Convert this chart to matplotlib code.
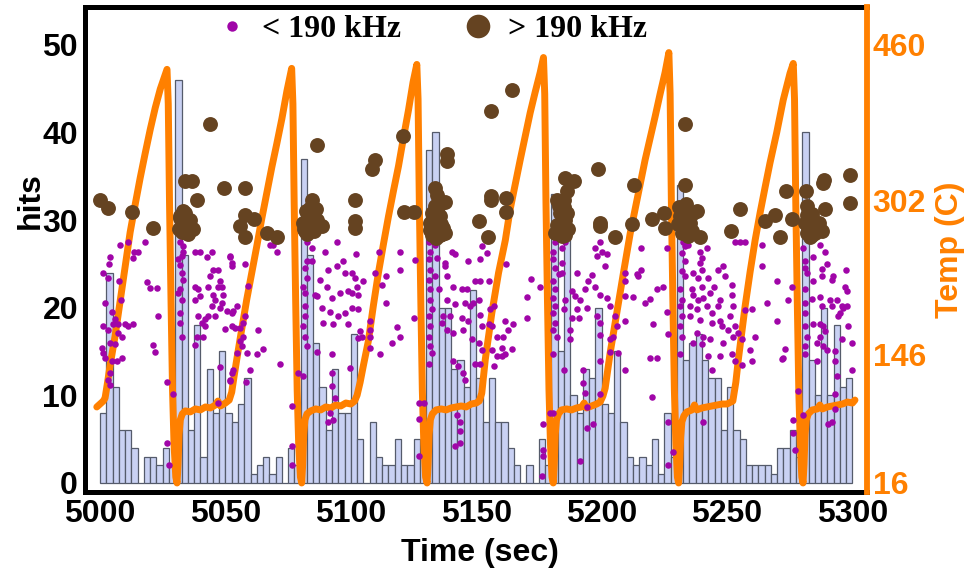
import numpy as np
import matplotlib
matplotlib.use("Agg")
import matplotlib.pyplot as plt
from matplotlib.lines import Line2D
from matplotlib.font_manager import FontProperties

plt.rcParams['font.family'] = ['Liberation Sans', 'DejaVu Sans']
plt.rcParams['font.weight'] = 'bold'

# histogram: hits per 2.5 s bin, starting at 5000 s
bin_start = 5000
bin_width = 2.5
hits_per_bin = [8, 24, 11, 6, 6, 4, 0, 3, 3, 2, 4, 2, 46, 26, 6, 18, 3, 13, 8, 15,
                8, 7, 9, 12, 1, 2, 3, 1, 3, 0, 4, 2, 37, 26, 16, 11, 6, 13, 8, 8,
                17, 5, 0, 7, 3, 2, 2, 5, 2, 2, 5, 3, 38, 40, 20, 20, 13, 14, 11, 22,
                12, 7, 12, 7, 7, 4, 2, 0, 2, 0, 5, 2, 33, 15, 31, 10, 8, 13, 12, 20,
                9, 8, 15, 7, 3, 2, 3, 2, 5, 1, 8, 3, 34, 14, 16, 17, 14, 12, 12, 6,
                11, 6, 5, 2, 2, 2, 2, 1, 4, 4, 6, 3, 40, 14, 10, 20, 10, 18, 11, 12]

# temperature trace (time s, temp C)
temp_pts = [
    (4998.7, 93), (5000.0, 96), (5001.3, 99), (5002.0, 102), (5003.0, 118), (5004.0, 135),
    (5006.0, 165), (5008.0, 200), (5010.0, 235), (5012.0, 270), (5014.0, 298), (5016.0, 325),
    (5018.0, 350), (5020.0, 374), (5022.0, 396), (5024.0, 415), (5026.0, 430), (5026.7, 435),
    (5027.2, 400), (5027.7, 300), (5028.3, 200), (5028.9, 110), (5029.5, 55), (5030.2, 22),
    (5030.7, 16), (5031.1, 35), (5031.5, 65), (5032.0, 80), (5032.8, 86), (5034, 89), (5036, 88),
    (5038, 91), (5040, 90), (5042, 93), (5044, 92), (5046, 95), (5047, 99), (5048, 94), (5050, 97),
    (5051.5, 100),
    (5052.5, 108), (5053.5, 125), (5054.5, 141), (5056.5, 172), (5058.5, 202), (5060.5, 229),
    (5062.5, 256), (5064.5, 284), (5066.5, 310), (5068.5, 336), (5070.5, 360), (5072.5, 385),
    (5074.5, 413), (5076.4, 436),
    (5076.9, 400), (5077.4, 300), (5078.0, 200), (5078.6, 110), (5079.2, 55), (5079.9, 22),
    (5080.4, 16), (5080.8, 35), (5081.2, 65), (5081.7, 80), (5082.5, 86), (5084, 89), (5086, 91),
    (5088, 90), (5090, 93), (5092, 92), (5094, 95), (5096, 94), (5098, 97), (5100, 96), (5101.5, 99),
    (5102.5, 105), (5103.7, 118), (5105.0, 135), (5107.0, 160), (5109.0, 196), (5111.0, 229),
    (5113.0, 258), (5115.0, 286), (5117.0, 312), (5119.0, 337), (5121.0, 366), (5123.0, 394),
    (5124.8, 422), (5126.3, 440),
    (5126.8, 405), (5127.3, 300), (5127.9, 200), (5128.5, 110), (5129.1, 55), (5129.8, 22),
    (5130.4, 16), (5130.8, 35), (5131.2, 65), (5131.7, 80), (5132.5, 86), (5134, 90), (5136, 91),
    (5138, 90), (5140, 92), (5142, 93), (5144, 94), (5146, 93), (5148, 96), (5150, 97), (5151.2, 99),
    (5152.2, 107), (5153.6, 141), (5156.2, 188), (5158.9, 229), (5161.6, 262), (5163.5, 293),
    (5165.5, 318), (5167.5, 343), (5169.5, 367), (5171.5, 391), (5173.5, 412), (5175.5, 432),
    (5176.8, 447),
    (5177.3, 410), (5177.8, 300), (5178.4, 200), (5179.0, 110), (5179.6, 55), (5180.2, 22),
    (5180.7, 16), (5181.1, 35), (5181.5, 65), (5182.0, 80), (5182.8, 86), (5184, 90), (5186, 91),
    (5188, 90), (5190, 92), (5192, 93), (5193, 97), (5194, 92), (5196, 94), (5198, 96), (5199.4, 98),
    (5200.5, 104), (5201.4, 112), (5203.4, 148), (5206.0, 188), (5208.7, 229), (5211.4, 269),
    (5213.3, 293), (5215.3, 318), (5217.3, 343), (5219.3, 365), (5221.3, 387), (5223.3, 410),
    (5225.3, 432), (5226.8, 452),
    (5227.3, 410), (5227.8, 300), (5228.4, 200), (5229.0, 110), (5229.6, 55), (5230.2, 22),
    (5230.7, 16), (5231.1, 35), (5231.5, 62), (5232.0, 78), (5232.8, 84), (5234, 88), (5236, 90),
    (5237, 95), (5238, 90), (5240, 92), (5242, 93), (5244, 94), (5246, 95), (5248, 96), (5250, 96),
    (5252.3, 99),
    (5253.5, 118), (5254.5, 141), (5257.2, 195), (5259.2, 230), (5261.2, 262), (5263.2, 290),
    (5265.2, 316), (5267.1, 340), (5269.8, 371), (5272.4, 404), (5275.1, 431), (5276.4, 441),
    (5276.9, 405), (5277.4, 300), (5278.0, 200), (5278.6, 110), (5279.2, 55), (5279.8, 22),
    (5280.3, 16), (5280.7, 35), (5281.1, 65), (5281.6, 80), (5282.4, 86), (5284, 90), (5286, 91),
    (5287, 95), (5288, 91), (5290, 93), (5292, 94), (5294, 95), (5296, 96), (5298, 98), (5300, 97),
    (5301, 100)]

# hits < 190 kHz (time s, y on hits scale)
purple_pts = [
    (5008.0, 27.2), (5011.3, 27.5), (5018.0, 27.5), (5013.7, 26.4), (5015.0, 26.4), (5013.3, 25.7),
    (5004.0, 25.8), (5003.6, 25.0), (5001.3, 24.0), (5003.3, 23.4), (5007.6, 23.0), (5018.6, 22.9),
    (5019.9, 22.2), (5022.6, 22.2), (5002.0, 20.5), (5008.4, 20.9), (5023.3, 19.1), (5004.6, 19.5),
    (5006.0, 18.7), (5005.3, 18.1), (5007.3, 18.1), (5010.0, 18.1), (5011.3, 17.9), (5013.3, 18.1),
    (5001.3, 17.9), (5003.3, 17.5), (5007.3, 17.1), (5008.6, 16.7), (5006.0, 15.8), (5004.0, 16.0),
    (5021.3, 15.7), (5021.9, 14.9), (5000.7, 15.4), (5001.3, 14.8), (5002.0, 14.3), (5004.6, 13.9),
    (5006.6, 13.9), (5004.0, 12.6), (5003.3, 11.8), (5004.0, 11.2), (5008.6, 14.3), (5026.6, 11.5),
    (5028.9, 10.2), (5026.6, 4.6), (5027.3, 2.1),
    (5031.9, 27.5), (5033.2, 27.0), (5032.6, 25.9), (5031.9, 24.9), (5032.6, 24.0), (5033.2, 23.2),
    (5031.9, 22.1), (5032.6, 20.9), (5031.9, 19.4), (5031.9, 18.3), (5032.6, 16.7), (5031.2, 21.7),
    (5031.2, 25.5), (5033.2, 26.4),
    (5037.9, 26.4), (5039.9, 26.4), (5044.5, 26.4), (5042.5, 25.8), (5051.9, 25.8), (5052.5, 24.7),
    (5045.2, 24.3), (5047.2, 24.3), (5043.9, 23.6), (5047.9, 23.0), (5037.9, 22.4), (5039.2, 22.1),
    (5043.2, 22.3), (5047.2, 22.3), (5048.5, 22.3), (5045.2, 21.5), (5049.2, 21.5), (5037.9, 20.9),
    (5039.9, 21.3), (5045.9, 20.9), (5048.5, 20.5), (5044.5, 20.2), (5047.9, 20.0), (5050.5, 19.6),
    (5052.5, 19.4), (5039.2, 19.0), (5043.2, 19.0), (5041.9, 18.7), (5045.9, 19.1), (5040.6, 18.3),
    (5041.9, 17.9), (5049.9, 17.6), (5038.6, 16.7), (5041.2, 16.7), (5037.9, 15.7), (5047.9, 13.2),
    (5052.5, 12.6), (5051.9, 11.6), (5047.2, 9.1), (5052.5, 17.9), (5053.2, 19.6),
    (5051.8, 25.9), (5052.5, 25.1), (5057.8, 25.0), (5067.8, 27.2), (5068.8, 27.2), (5070.4, 26.4),
    (5059.1, 22.5), (5054.5, 20.2), (5057.8, 19.1), (5057.1, 18.3), (5055.8, 17.7), (5053.8, 17.7),
    (5057.1, 16.7), (5055.8, 16.2), (5056.5, 15.6), (5054.5, 14.8), (5058.5, 14.8), (5053.1, 12.9),
    (5051.8, 11.8), (5059.8, 12.9), (5063.1, 17.4), (5065.1, 15.3), (5062.7, 14.7), (5071.7, 13.6),
    (5058.2, 11.5),
    (5082.4, 27.5), (5084.4, 26.8), (5082.4, 25.3), (5084.4, 25.3), (5081.7, 24.5), (5082.4, 23.4),
    (5081.1, 22.4), (5081.7, 21.7), (5081.7, 20.2), (5081.7, 19.0), (5081.1, 17.9), (5081.7, 16.7),
    (5082.4, 15.6), (5079.1, 12.6), (5081.1, 12.2), (5076.4, 8.8), (5076.4, 4.2), (5076.4, 2.1),
    (5094.4, 27.5), (5089.7, 26.4), (5102.1, 26.1), (5097.0, 25.3), (5091.0, 24.3), (5094.4, 24.7),
    (5097.7, 24.0), (5100.3, 24.0), (5101.7, 23.4), (5102.3, 22.4), (5087.7, 23.2), (5090.4, 22.3),
    (5092.4, 21.1), (5095.7, 21.7), (5099.0, 21.9), (5100.3, 21.7), (5103.0, 21.5), (5086.4, 21.3),
    (5088.4, 20.0), (5091.7, 19.5), (5095.0, 19.0), (5097.7, 19.4), (5100.3, 20.0), (5103.0, 19.8),
    (5105.0, 23.0), (5085.7, 21.4), (5089.0, 18.3), (5093.0, 18.1), (5099.0, 18.1), (5103.7, 17.3),
    (5104.3, 16.7), (5086.4, 14.9), (5092.4, 14.7), (5099.7, 13.1), (5092.4, 12.6), (5092.4, 11.1),
    (5093.7, 9.7), (5091.7, 8.0), (5093.0, 7.2), (5091.0, 7.0), (5103.0, 16.5),
    (5111.3, 26.4), (5119.7, 26.4), (5125.6, 25.4), (5109.7, 24.0), (5114.0, 23.6), (5119.7, 24.3),
    (5112.3, 22.6), (5114.0, 20.5), (5107.7, 18.5), (5107.7, 17.5), (5107.7, 16.7), (5118.3, 17.8),
    (5119.7, 16.7), (5116.3, 16.0), (5107.7, 15.4), (5111.7, 14.7),
    (5131.0, 27.5), (5131.6, 26.4), (5131.0, 25.5), (5131.6, 24.3), (5131.0, 23.2), (5131.6, 22.1),
    (5131.6, 20.9), (5132.3, 19.8), (5131.0, 19.0), (5131.6, 17.9), (5131.0, 16.7), (5131.6, 15.6),
    (5132.3, 14.8), (5131.0, 13.6), (5127.0, 9.1), (5129.0, 9.1), (5127.0, 7.3), (5127.0, 3.1),
    (5125.0, 18.8),
    (5133.6, 27.2), (5134.3, 25.7), (5133.6, 23.6), (5135.0, 22.1), (5137.6, 25.1), (5137.6, 24.7),
    (5141.6, 26.1), (5140.3, 26.4), (5146.9, 25.3), (5151.6, 25.5), (5152.2, 27.0), (5154.2, 26.2),
    (5138.3, 23.6), (5140.9, 22.3), (5144.3, 22.1), (5146.3, 22.1), (5149.6, 23.0), (5151.6, 23.0),
    (5154.9, 23.0), (5138.3, 20.9), (5141.6, 20.4), (5145.6, 20.5), (5148.9, 20.5), (5150.9, 20.9),
    (5147.6, 20.2), (5136.9, 19.0), (5139.6, 19.0), (5144.3, 18.8), (5146.9, 18.5), (5151.6, 19.2),
    (5155.6, 19.8), (5156.9, 20.2), (5136.3, 18.3), (5138.3, 17.5), (5140.9, 17.1), (5144.9, 17.5),
    (5148.3, 16.4), (5152.2, 17.9), (5154.9, 18.1), (5156.2, 17.9), (5158.2, 16.7), (5150.9, 16.0),
    (5152.2, 15.2), (5156.2, 15.2), (5158.2, 14.5), (5160.2, 14.5), (5140.9, 13.9), (5142.9, 13.3),
    (5144.9, 12.6), (5145.6, 11.8), (5149.6, 13.6), (5151.6, 13.6), (5156.9, 13.3), (5142.3, 7.7),
    (5143.6, 7.0), (5143.6, 5.9), (5143.6, 4.6), (5141.6, 4.2),
    (5161.9, 25.0), (5171.7, 23.3), (5175.5, 22.3), (5170.4, 21.2), (5170.1, 18.8), (5164.8, 18.1),
    (5161.5, 18.5), (5162.8, 17.5), (5160.8, 16.7), (5160.2, 15.4), (5161.5, 14.7), (5164.2, 15.3),
    (5181.4, 27.5), (5184.1, 26.8), (5185.4, 27.5), (5180.8, 26.4), (5180.8, 25.5), (5181.4, 24.5),
    (5182.8, 23.8), (5184.1, 24.0), (5180.8, 23.0), (5181.4, 22.1), (5180.8, 21.1), (5181.4, 20.2),
    (5180.8, 19.4), (5181.4, 18.3), (5180.8, 17.5), (5182.1, 16.7), (5180.8, 14.7), (5184.1, 25.1),
    (5185.4, 20.9), (5184.8, 19.8), (5187.4, 17.4), (5187.2, 16.4), (5184.8, 12.9), (5180.8, 8.0),
    (5179.4, 8.0), (5176.8, 6.7), (5176.8, 3.8), (5176.8, 3.1), (5176.1, 0.8),
    (5199.4, 27.5), (5197.4, 26.8), (5200.1, 26.3), (5202.1, 26.1), (5198.1, 25.9), (5201.4, 24.7),
    (5190.1, 24.0), (5196.1, 23.7), (5194.7, 23.0), (5193.4, 22.1), (5197.4, 22.3), (5199.4, 21.5),
    (5202.1, 21.1), (5188.1, 21.9), (5189.4, 21.3), (5191.4, 20.9), (5194.1, 20.0), (5190.1, 19.8),
    (5190.8, 18.8), (5188.1, 18.8), (5198.1, 19.0), (5199.4, 18.3), (5203.4, 20.2), (5205.4, 19.0),
    (5206.0, 17.9), (5209.4, 18.5), (5204.7, 16.7), (5203.4, 16.4), (5199.4, 16.9), (5206.7, 14.8),
    (5203.4, 14.9), (5199.4, 13.9), (5209.4, 12.9), (5192.7, 12.9), (5193.4, 10.3), (5192.7, 11.4),
    (5199.4, 10.2), (5194.1, 8.7), (5194.1, 6.3), (5196.7, 6.7), (5191.4, 2.5), (5209.4, 24.0),
    (5209.4, 23.0), (5214.0, 23.8), (5209.4, 21.3), (5212.4, 21.2),
    (5215.7, 26.8), (5225.9, 26.8), (5214.6, 23.6), (5215.7, 24.3), (5221.9, 22.1), (5224.6, 22.3),
    (5219.3, 21.0), (5217.3, 20.5), (5220.6, 18.1), (5219.3, 14.3), (5221.9, 14.3), (5220.2, 9.8),
    (5225.9, 19.5), (5226.6, 17.0), (5226.6, 7.0), (5228.6, 3.5), (5226.6, 2.1),
    (5232.6, 27.5), (5233.2, 27.0), (5231.9, 26.2), (5233.2, 25.3), (5231.9, 24.2), (5233.2, 23.6),
    (5231.3, 22.1), (5231.9, 20.9), (5231.3, 20.2), (5231.9, 19.0), (5231.3, 17.9), (5231.9, 16.7),
    (5231.3, 14.7), (5234.6, 27.2), (5239.2, 26.4), (5239.9, 25.7), (5241.9, 26.8), (5239.2, 25.1),
    (5239.9, 24.3), (5236.6, 24.0), (5238.6, 23.4), (5242.6, 23.4), (5246.5, 24.3), (5248.5, 24.7),
    (5249.2, 23.6), (5235.9, 22.1), (5239.9, 22.4), (5244.6, 22.4), (5236.6, 21.5), (5238.6, 20.9),
    (5240.6, 21.1), (5243.2, 21.7), (5247.2, 20.9), (5235.2, 20.2), (5237.9, 19.8), (5241.9, 20.2),
    (5243.9, 19.4), (5246.5, 20.2), (5235.2, 19.0), (5239.2, 18.6), (5243.9, 18.3), (5247.2, 18.5),
    (5251.9, 22.6), (5251.9, 21.5), (5252.5, 20.2), (5251.2, 19.0), (5247.9, 17.9), (5250.5, 17.5),
    (5253.2, 17.9), (5252.5, 16.7), (5254.5, 17.1), (5255.9, 16.4), (5237.9, 17.1), (5236.6, 16.0),
    (5240.6, 16.7), (5239.9, 15.8), (5243.2, 16.4), (5248.5, 16.0), (5251.9, 14.7), (5253.2, 13.9),
    (5242.6, 14.5), (5243.9, 12.9), (5255.9, 13.5), (5259.8, 13.9), (5259.2, 15.2), (5257.2, 19.7),
    (5259.8, 19.8), (5253.2, 27.5), (5255.2, 27.5), (5257.2, 27.5), (5263.8, 27.1), (5263.8, 24.7),
    (5265.8, 20.5), (5261.2, 16.7), (5240.6, 7.0), (5247.2, 14.5),
    (5280.4, 26.8), (5287.0, 27.1), (5289.0, 26.4), (5284.1, 25.8), (5281.1, 25.3), (5289.7, 25.0),
    (5281.1, 24.5), (5281.7, 24.0), (5287.7, 24.4), (5297.4, 24.3), (5269.8, 23.0), (5275.7, 22.3),
    (5284.4, 23.0), (5287.7, 23.6), (5292.4, 23.6), (5291.7, 23.2), (5281.1, 22.1), (5283.7, 21.0),
    (5287.0, 21.2), (5291.0, 20.9), (5293.7, 20.9), (5297.0, 22.4), (5297.7, 21.9), (5274.4, 20.9),
    (5281.1, 20.5), (5287.7, 20.2), (5291.7, 20.2), (5295.7, 20.2), (5297.7, 20.2), (5281.1, 19.4),
    (5284.4, 18.1), (5287.0, 18.1), (5288.4, 17.9), (5289.0, 17.3), (5295.0, 19.4), (5294.4, 19.0),
    (5296.4, 20.0), (5298.4, 17.9), (5270.0, 18.5), (5281.1, 17.9), (5281.7, 16.7), (5287.0, 16.7),
    (5285.7, 16.0), (5288.4, 15.6), (5281.1, 15.6), (5289.7, 15.2), (5293.0, 15.0), (5295.7, 16.4),
    (5299.7, 16.0), (5281.1, 14.7), (5285.7, 13.9), (5273.1, 15.3), (5271.8, 14.1), (5272.4, 14.3),
    (5293.0, 13.9), (5293.7, 12.2), (5299.7, 12.9), (5278.4, 10.5), (5293.0, 10.2), (5280.4, 7.7),
    (5276.4, 7.2), (5276.4, 5.7), (5277.1, 3.8), (5291.7, 7.0), (5290.4, 6.7), (5293.0, 8.4)]

# hits > 190 kHz (time s, y on hits scale)
brown_pts = [
    (5000.0, 32.3), (5003.3, 31.4), (5012.6, 30.9), (5021.3, 29.1), (5031.9, 30.4), (5033.9, 34.4),
    (5036.6, 34.4), (5038.5, 32.3), (5043.9, 41.0), (5049.6, 33.6), (5031.5, 29.0), (5032.5, 28.6),
    (5033.5, 29.5), (5034.5, 28.8), (5035.5, 29.3), (5032.0, 30.2), (5034.0, 30.8), (5036.0, 30.0),
    (5033.0, 31.0), (5035.0, 28.4), (5037.0, 29.0),
    (5057.8, 33.7), (5057.8, 30.6), (5055.8, 29.3), (5057.8, 28.1), (5061.4, 30.1), (5066.7, 28.5),
    (5070.7, 28.1), (5086.4, 38.5), (5084.4, 32.3), (5083.7, 31.4), (5082.4, 30.0), (5081.1, 29.7),
    (5085.0, 30.4), (5086.4, 30.0), (5083.7, 29.1), (5081.7, 28.7), (5088.4, 29.3), (5101.7, 32.3),
    (5101.7, 29.9), (5101.7, 29.1), (5081.5, 29.0), (5082.5, 28.4), (5083.5, 30.4), (5084.5, 29.6),
    (5085.5, 28.8), (5082.0, 31.0), (5086.0, 31.2),
    (5109.7, 36.9), (5108.4, 35.8), (5120.6, 39.6), (5121.0, 30.9), (5125.0, 30.9), (5138.3, 37.5),
    (5138.3, 36.7), (5134.3, 32.9), (5133.6, 31.6), (5132.3, 30.8), (5135.6, 30.4), (5137.6, 32.0),
    (5131.6, 29.7), (5134.3, 29.3), (5136.9, 29.1), (5133.0, 28.5), (5135.6, 28.3), (5131.6, 28.9),
    (5137.6, 28.5), (5156.0, 42.4), (5156.0, 32.7), (5156.0, 32.3), (5150.9, 29.9), (5154.6, 28.1),
    (5162.0, 32.5), (5162.0, 30.9), (5132.0, 29.5), (5133.0, 30.0), (5134.5, 30.9), (5136.0, 29.6),
    (5133.5, 33.6), (5135.0, 31.7), (5132.5, 28.3), (5136.5, 28.4), (5134.0, 28.0),
    (5164.2, 44.8), (5198.7, 35.8), (5185.4, 34.8), (5188.8, 34.4), (5186.1, 33.3), (5182.1, 32.3),
    (5184.8, 32.3), (5186.1, 30.8), (5185.4, 30.0), (5184.8, 29.3), (5182.8, 28.5), (5185.4, 28.3),
    (5181.4, 28.5), (5199.4, 29.7), (5199.4, 29.3), (5205.4, 28.1), (5212.7, 34.0), (5212.0, 29.6),
    (5182.0, 29.4), (5183.5, 30.8), (5185.0, 31.5), (5186.5, 29.0), (5184.0, 28.2), (5183.0, 31.6),
    (5233.2, 41.0), (5233.2, 34.0), (5225.0, 30.8), (5220.2, 30.1), (5225.3, 29.1), (5231.9, 31.2),
    (5231.3, 30.4), (5233.2, 30.1), (5235.2, 29.7), (5230.6, 29.5), (5233.2, 28.9), (5231.9, 28.5),
    (5236.6, 30.8), (5237.9, 31.0), (5239.2, 28.1), (5255.2, 31.2), (5251.6, 28.8), (5265.2, 29.9),
    (5232.5, 29.3), (5234.0, 30.8), (5236.0, 28.7), (5231.0, 31.5), (5234.5, 28.2), (5233.5, 31.8),
    (5273.5, 33.3), (5269.1, 30.6), (5275.7, 30.1), (5271.1, 28.1), (5281.5, 33.3), (5281.7, 31.6),
    (5288.4, 34.2), (5289.0, 31.3), (5299.0, 35.1), (5299.0, 31.9), (5281.1, 29.7), (5282.4, 29.3),
    (5284.4, 29.7), (5283.1, 28.9), (5285.7, 28.9), (5287.7, 28.7), (5281.7, 28.5), (5283.7, 28.3),
    (5282.0, 30.6), (5284.0, 30.7), (5286.5, 29.7), (5283.0, 28.1), (5285.0, 28.5), (5288.6, 34.6)]

x_ticks = [5000, 5050, 5100, 5150, 5200, 5250, 5300]
hit_ticks = [0, 10, 20, 30, 40, 50]
temp_ticks = [16, 146, 302, 460]

orange = '#FF8000'
purple = '#A005A8'
brown = '#654321'

temp_t, temp_c = zip(*temp_pts)
purple_t, purple_h = zip(*purple_pts)
brown_t, brown_h = zip(*brown_pts)
bin_left = bin_start + bin_width * np.arange(len(hits_per_bin))

fig = plt.figure(figsize=(9.68, 5.76), dpi=100)
ax = fig.add_axes([85/968, 1 - 492/576, 782/968, 485/576])
ax2 = ax.twinx()

ax.bar(bin_left, hits_per_bin, width=bin_width, align='edge', color='#C9D1F3',
       edgecolor='#555B6B', linewidth=0.9, zorder=1)

ax2.plot(temp_t, temp_c, color=orange, lw=5.0, solid_joinstyle='round',
         solid_capstyle='round', zorder=2)
ax2.scatter(purple_t, purple_h, s=22, color=purple, linewidths=0,
            transform=ax.transData, zorder=3)
ax2.scatter(brown_t, brown_h, s=115, color=brown, linewidths=0,
            transform=ax.transData, zorder=4)

ax.set_xlim(4994, 5305.8)
ax.set_ylim(-1.03, 54.3)
ax2.set_ylim(16 - 1.03 * 8.88, 16 + 54.3 * 8.88)

ax.set_xticks(x_ticks)
ax.set_yticks(hit_ticks)
ax2.set_yticks(temp_ticks)
ax.tick_params(axis='both', length=0, labelsize=23, pad=5)
ax2.tick_params(axis='y', length=0, labelsize=23, pad=4, labelcolor=orange)

for s in ['top', 'bottom', 'left']:
    ax.spines[s].set_linewidth(3.6)
    ax.spines[s].set_color('black')
ax.spines['right'].set_visible(False)
for s in ['top', 'bottom', 'left']:
    ax2.spines[s].set_visible(False)
ax2.spines['right'].set_color(orange)
ax2.spines['right'].set_linewidth(4.2)

ax.set_xlabel('Time (sec)', fontsize=23, fontweight='bold')
ax.xaxis.set_label_coords(0.505, -0.095)
ax.set_ylabel('hits', fontsize=23, fontweight='bold')
ax.yaxis.set_label_coords(-0.05, 0.6)
ax2.set_ylabel('Temp (C)', fontsize=23, fontweight='bold', color=orange)
ax2.yaxis.set_label_coords(1.087, 0.5)

handles = [Line2D([], [], ls='', marker='o', color=purple, markersize=7.5, markeredgewidth=0),
           Line2D([], [], ls='', marker='o', color=brown, markersize=17, markeredgewidth=0)]
leg = ax2.legend(handles, ['< 190 kHz', '> 190 kHz'], ncol=2, frameon=False,
                 loc='center', bbox_to_anchor=(0.443, 0.953),
                 prop=FontProperties(family='Liberation Serif', weight='bold', size=23),
                 handlelength=1.0, handletextpad=0.45, columnspacing=1.9)

fig.savefig('out.png', dpi=100)
